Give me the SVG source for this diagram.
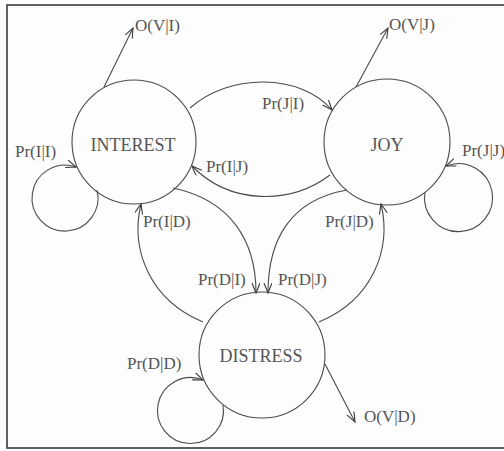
<svg xmlns="http://www.w3.org/2000/svg" width="504" height="451" viewBox="0 0 504 451">
<style>
.frame{fill:none;stroke:#3a3a3a;stroke-width:1.6}
.node{fill:none;stroke:#4a4a4a;stroke-width:1.1}
.edge{fill:none;stroke:#4a4a4a;stroke-width:1.1;marker-end:url(#arr)}
.nt{font-family:"Liberation Serif",serif;font-size:18px;fill:#555;text-anchor:middle}
.lb{font-family:"Liberation Serif",serif;font-size:17px;fill:#555}
</style>
<defs>
<marker id="arr" markerUnits="userSpaceOnUse" markerWidth="12" markerHeight="10" refX="10" refY="4" orient="auto">
<path d="M0,0 L10,4 L0,8" fill="none" stroke="#3a3a3a" stroke-width="1.1"/>
</marker>
</defs>
<rect width="504" height="451" fill="#fdfdfd"/>
<rect class="frame" x="7" y="5" width="510" height="443"/>
<g id="connectors">
<path class="edge" d="M104,87 L133,28"/>
<path class="edge" d="M356,87 L388,28"/>
<path class="edge" d="M325,364 L355,422"/>
<path class="edge" d="M190,108 C230,73 300,73 332,110"/>
<path class="edge" d="M330,175 C290,205 230,205 192,166"/>
<path class="edge" d="M173,188 C230,200 256,240 256,293"/>
<path class="edge" d="M347,190 C290,200 268,240 268,293"/>
<path class="edge" d="M203,322 C150,300 130,250 141,204"/>
<path class="edge" d="M319,322 C372,300 392,250 381,204"/>
<path class="edge" d="M97,190 A33,33 0 1 1 76,167"/>
<path class="edge" d="M425,192 A34,34 0 1 0 446,166"/>
<path class="edge" d="M223,405 A33,33 0 1 1 203,380"/>
</g>
<g id="interest">
<circle class="node" cx="134" cy="142" r="62"/>
<text class="nt" x="133" y="151">INTEREST</text>
</g>
<g id="joy">
<circle class="node" cx="387" cy="142" r="63"/>
<text class="nt" x="387" y="151">JOY</text>
</g>
<g id="distress">
<circle class="node" cx="262" cy="355" r="63"/>
<text class="nt" x="261" y="362">DISTRESS</text>
</g>
<g id="labels">
<text class="lb" x="135" y="31">O(V|I)</text>
<text class="lb" x="389" y="30">O(V|J)</text>
<text class="lb" x="364" y="422">O(V|D)</text>
<text class="lb" x="262" y="109">Pr(J|I)</text>
<text class="lb" x="206" y="172">Pr(I|J)</text>
<text class="lb" x="15" y="157">Pr(I|I)</text>
<text class="lb" x="462" y="156">Pr(J|J)</text>
<text class="lb" x="143" y="227">Pr(I|D)</text>
<text class="lb" x="325" y="227">Pr(J|D)</text>
<text class="lb" x="198" y="285">Pr(D|I)</text>
<text class="lb" x="278" y="285">Pr(D|J)</text>
<text class="lb" x="127" y="369">Pr(D|D)</text>
</g>
</svg>
